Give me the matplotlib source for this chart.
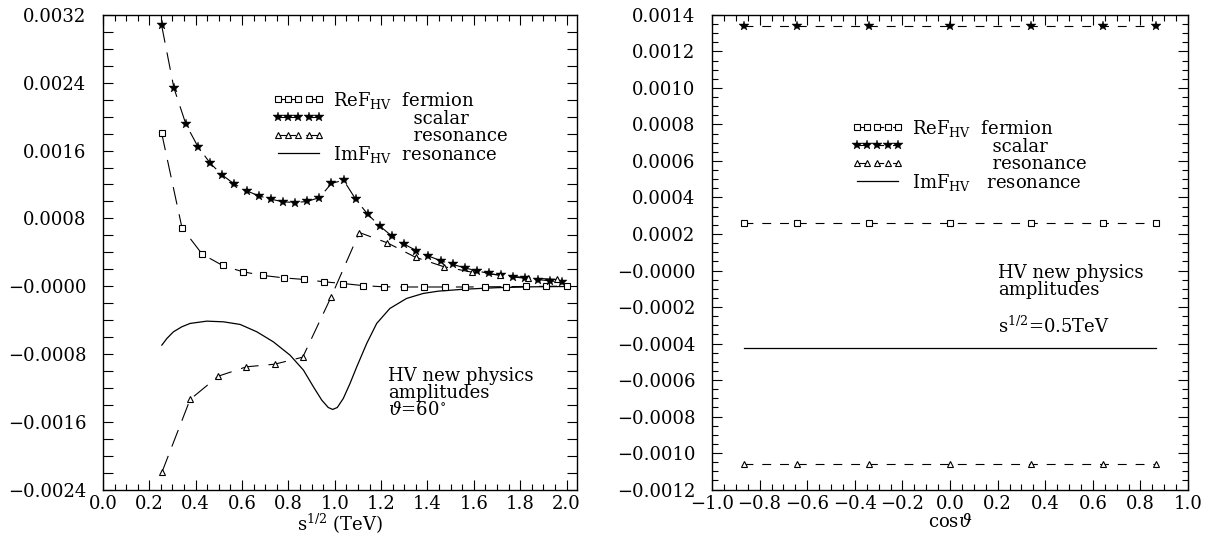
import matplotlib
matplotlib.use('Agg')
import matplotlib.pyplot as plt
from matplotlib.ticker import MultipleLocator, FixedLocator, FixedFormatter
import numpy as np

plt.rcParams['font.family'] = ['DejaVu Serif']
plt.rcParams['mathtext.fontset'] = 'dejavuserif'
plt.rcParams['font.size'] = 13

# ---- left panel: amplitudes vs sqrt(s) at theta = 60 deg (values in 1e-3)
x_scalar = [0.253, 0.306, 0.358, 0.41, 0.463, 0.515, 0.567, 0.62, 0.672, 0.724,
            0.777, 0.829, 0.881, 0.934, 0.986, 1.038, 1.09, 1.143, 1.195, 1.247,
            1.3, 1.352, 1.404, 1.457, 1.509, 1.561, 1.613, 1.666, 1.718, 1.77,
            1.823, 1.875, 1.927, 1.98]
re_scalar = [3.08, 2.34, 1.91, 1.645, 1.45, 1.31, 1.205, 1.125, 1.066, 1.027,
             0.995, 0.987, 0.999, 1.046, 1.212, 1.251, 1.027, 0.846, 0.708, 0.59,
             0.495, 0.42, 0.356, 0.3, 0.256, 0.216, 0.18, 0.15, 0.126, 0.108,
             0.093, 0.078, 0.063, 0.048]

x_fermion = [0.253, 0.341, 0.428, 0.516, 0.604, 0.692, 0.779, 0.867, 0.955, 1.037,
             1.123, 1.212, 1.299, 1.386, 1.475, 1.562, 1.648, 1.737, 1.825, 1.911, 2.0]
re_fermion = [1.81, 0.688, 0.378, 0.244, 0.169, 0.126, 0.098, 0.079, 0.051, 0.031,
              0.006, -0.008, -0.01, -0.01, -0.01, -0.01, -0.008, -0.006, -0.004, -0.002, 0.0]

x_reson = [0.254, 0.376, 0.498, 0.619, 0.741, 0.862, 0.984, 1.106, 1.227, 1.349,
           1.47, 1.592, 1.713, 1.835, 1.957]
re_reson = [-2.199, -1.337, -1.062, -0.952, -0.921, -0.838, -0.13, 0.633, 0.511, 0.34,
            0.23, 0.165, 0.13, 0.098, 0.079]

x_im = [0.254, 0.276, 0.304, 0.34, 0.376, 0.448, 0.52, 0.592, 0.664, 0.735, 0.807,
        0.865, 0.908, 0.944, 0.972, 0.991, 1.011, 1.037, 1.066, 1.095, 1.138, 1.181,
        1.238, 1.31, 1.382, 1.447, 1.554, 1.70, 1.85, 2.0]
im_reson = [-0.696, -0.617, -0.539, -0.48, -0.44, -0.413, -0.421, -0.452, -0.539,
            -0.657, -0.814, -0.991, -1.188, -1.345, -1.432, -1.455, -1.432, -1.325,
            -1.148, -0.952, -0.676, -0.44, -0.263, -0.145, -0.086, -0.059, -0.037,
            -0.018, -0.008, -0.004]

# ---- right panel: amplitudes vs cos(theta) at sqrt(s) = 0.5 TeV
cos_t = [-0.866, -0.643, -0.342, 0.0, 0.342, 0.643, 0.866]
r_scalar = [0.001338] * 7
r_fermion = [0.000258] * 7
r_reson = [-0.00106] * 7
r_im = [-0.000424] * 7

left_xticks = [0.0, 0.2, 0.4, 0.6, 0.8, 1.0, 1.2, 1.4, 1.6, 1.8, 2.0]
left_xlabels = ['0.0', '0.2', '0.4', '0.6', '0.8', '1.0', '1.2', '1.4', '1.6', '1.8', '2.0']
left_yticks = [-0.0024, -0.0016, -0.0008, 0.0, 0.0008, 0.0016, 0.0024, 0.0032]
left_ylabels = ['\u22120.0024', '\u22120.0016', '\u22120.0008', '\u22120.0000',
                '0.0008', '0.0016', '0.0024', '0.0032']
right_xticks = [-1.0, -0.8, -0.6, -0.4, -0.2, 0.0, 0.2, 0.4, 0.6, 0.8, 1.0]
right_xlabels = ['\u22121.0', '\u22120.8', '\u22120.6', '\u22120.4', '\u22120.2',
                 '0.0', '0.2', '0.4', '0.6', '0.8', '1.0']
right_yticks = [-0.0012, -0.0010, -0.0008, -0.0006, -0.0004, -0.0002, 0.0,
                0.0002, 0.0004, 0.0006, 0.0008, 0.0010, 0.0012, 0.0014]
right_ylabels = ['\u22120.0012', '\u22120.0010', '\u22120.0008', '\u22120.0006',
                 '\u22120.0004', '\u22120.0002', '\u22120.0000', '0.0002', '0.0004',
                 '0.0006', '0.0008', '0.0010', '0.0012', '0.0014']

left_key = ('ReF$_{\\rm HV}$  fermion\n'
            '              scalar\n'
            '              resonance\n'
            'ImF$_{\\rm HV}$  resonance')
right_key = ('ReF$_{\\rm HV}$  fermion\n'
             '              scalar\n'
             '              resonance\n'
             'ImF$_{\\rm HV}$   resonance')
left_note = 'HV new physics\namplitudes\n$\\vartheta$=60$^{\\circ}$'
right_note = 'HV new physics\namplitudes\n\ns$^{1/2}$=0.5TeV'

fig = plt.figure(figsize=(12.07, 5.39), dpi=100)
axL = fig.add_axes([0.0853, 0.0918, 0.3927, 0.8804])
axR = fig.add_axes([0.5899, 0.0918, 0.3944, 0.8804])

sq = dict(marker='s', ms=4.5, mfc='white', mec='black', mew=0.8)
st = dict(marker='*', ms=7.5, mfc='black', mec='black', mew=0.3)
tr = dict(marker='^', ms=5, mfc='white', mec='black', mew=0.8)


def key_box(ax, handles, words, xh, xt, ymid):
    # marker samples from a legend, words as one text block beside them
    ax.legend(handles, [''] * len(handles), loc='center left',
              bbox_to_anchor=(xh, ymid), bbox_transform=ax.transData,
              frameon=False, numpoints=5, handlelength=2.9, handleheight=0.7,
              handletextpad=0, labelspacing=-0.01, borderpad=0, borderaxespad=0,
              fontsize=13)
    ax.text(xt, ymid, words, ha='left', va='center', linespacing=0.93)


# left panel
e3 = 1e-3
dashL = (0, (16, 9))
h1, = axL.plot(x_fermion, np.array(re_fermion) * e3, color='black', lw=0.8, ls=dashL, **sq)
h2, = axL.plot(x_scalar, np.array(re_scalar) * e3, color='black', lw=0.8, ls=dashL, **st)
h3, = axL.plot(x_reson, np.array(re_reson) * e3, color='black', lw=0.8, ls=dashL, **tr)
h4, = axL.plot(x_im, np.array(im_reson) * e3, color='black', lw=0.9, zorder=1)

axL.set_xlim(0, 2.045)
axL.set_ylim(-0.0024, 0.0032)
axL.xaxis.set_major_locator(FixedLocator(left_xticks))
axL.xaxis.set_major_formatter(FixedFormatter(left_xlabels))
axL.xaxis.set_minor_locator(MultipleLocator(0.05))
axL.yaxis.set_major_locator(FixedLocator(left_yticks))
axL.yaxis.set_major_formatter(FixedFormatter(left_ylabels))
axL.yaxis.set_minor_locator(MultipleLocator(0.0002))
axL.tick_params(which='both', direction='in', top=True, right=True, width=0.8)
axL.tick_params(axis='x', which='major', length=7, pad=4)
axL.tick_params(axis='x', which='minor', length=4.5)
axL.tick_params(axis='y', which='both', length=7, pad=12)
axL.set_xlabel('s$^{1/2}$ (TeV)', labelpad=-1)

key_box(axL, [h1, h2, h3, h4], left_key, 0.73, 0.992, 0.0018765)
axL.text(1.23, -0.00126, left_note, ha='left', va='center', linespacing=0.95)

# right panel
dashR = (0, (8, 8))
g1, = axR.plot(cos_t, r_fermion, color='black', lw=0.8, ls=dashR, **sq)
g2, = axR.plot(cos_t, r_scalar, color='black', lw=0.8, ls=dashR, **st)
g3, = axR.plot(cos_t, r_reson, color='black', lw=0.8, ls=dashR, **tr)
g4, = axR.plot(cos_t, r_im, color='black', lw=0.9, zorder=1)

axR.set_xlim(-1.0, 1.0)
axR.set_ylim(-0.0012, 0.0014)
axR.xaxis.set_major_locator(FixedLocator(right_xticks))
axR.xaxis.set_major_formatter(FixedFormatter(right_xlabels))
axR.xaxis.set_minor_locator(MultipleLocator(0.05))
axR.yaxis.set_major_locator(FixedLocator(right_yticks))
axR.yaxis.set_major_formatter(FixedFormatter(right_ylabels))
axR.yaxis.set_minor_locator(MultipleLocator(0.00005))
axR.tick_params(which='both', direction='in', top=True, right=True, width=0.8)
axR.tick_params(which='major', length=7)
axR.tick_params(which='minor', length=4)
axR.tick_params(axis='x', pad=4)
axR.tick_params(axis='y', pad=12)
axR.set_xlabel('cos$\\vartheta$', labelpad=0)

key_box(axR, [g1, g2, g3, g4], right_key, -0.415, -0.158, 0.00063)
axR.text(0.203, -0.000163, right_note, ha='left', va='center', linespacing=0.95)

for ax in (axL, axR):
    for sp in ax.spines.values():
        sp.set_linewidth(1.0)

fig.savefig('out.png', dpi=100)
